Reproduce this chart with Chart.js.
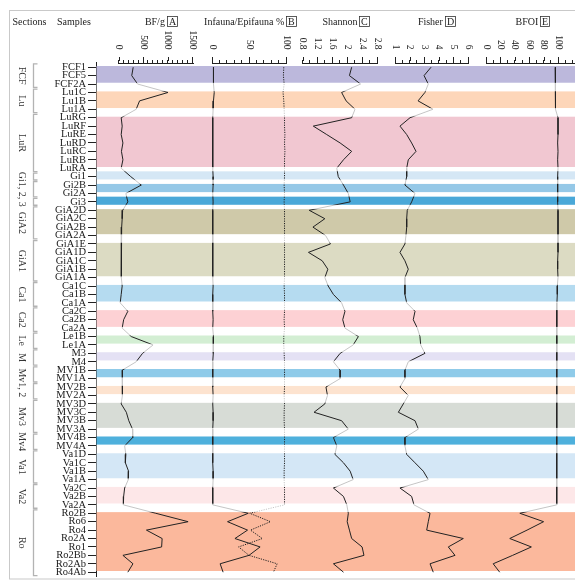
<!DOCTYPE html>
<html><head><meta charset="utf-8">
<script src="https://cdn.jsdelivr.net/npm/chart.js@4"></script>
<style>html,body{margin:0;padding:0;background:#fff;}canvas{display:block;}</style>
</head><body>
<canvas id="c" width="575" height="581" style="width:575px;height:581px"></canvas>
<script>
// ---------------- DATA ----------------
const samples = ['FCF1','FCF5','FCF2A','Lu1C','Lu1B','Lu1A','LuRG','LuRF','LuRE','LuRD','LuRC','LuRB','LuRA',
 'Gi1','Gi2B','Gi2A','Gi3','GiA2D','GiA2C','GiA2B','GiA2A','GiA1E','GiA1D','GiA1C','GiA1B','GiA1A',
 'Ca1C','Ca1B','Ca1A','Ca2C','Ca2B','Ca2A','Le1B','Le1A','M3','M4','MV1B','MV1A','MV2B','MV2A',
 'MV3D','MV3C','MV3B','MV3A','MV4B','MV4A','Va1D','Va1C','Va1B','Va1A','Va2C','Va2B','Va2A',
 'Ro2B','Ro6','Ro4','Ro2A','Ro1','Ro2Bb','Ro2Ab','Ro4Ab'];

const bfg = [300,270,390, 1010,430,360, 55,75,55,90,60,90,55, 250,465,150,190, 85,75,65,60, 55,60,55,60,55,
 75,55,35, 190,105,75, 260,705, 490,360, 75,75, 75,90, 55,160,210,285, 290,125, 150,140,205,200, 125,105,100,
 760,1420,570,890,880,90,295,190];

const infauna = [2,2.5,1.5, 3,2,1.5, 1,1,1,1,1,1,1, 1.5,1.5,1,1.5, 1,1,1,1, 1,1,1,1,1,
 1.5,1,1, 1,1.5,1, 2,2, 1.5,1, 1,1, 1,1.5, 1,1.5,1.5,1, 1,1, 1,1,1.5,1.5, 1,1,1,
 49,21,48,31,65,50,11,15];

const epifauna = [97,96.5,97.5, 96,97,97.5, 98,98,98.5,98,98.5,98,98, 98,97.5,98,97.5, 98,98,98,98, 98,98,98,98,98,
 97.5,98,98, 98,97.5,98, 97,97, 97.5,98, 98,98, 98,97.5, 98,97.5,97.5,98, 98,98, 98,98,97.5,97.5, 98,98,98,
 51,79,52,68,36,50,88,83];

const shannon = [2.12,2.06,2.36, 1.85,1.97,2.21, 2.12,1.09,1.45,1.81,2.12,1.90,1.72, 1.76,1.90,2.03,2.08,
 0.98,1.40,1.08,1.42, 1.55,0.96,1.33,1.48,1.40, 1.49,1.63,1.85, 1.94,1.88,1.94, 2.30,2.16, 1.81,1.63,
 1.81,1.81, 1.43,1.47, 1.40,1.11,1.85,2.03, 1.63,1.72, 1.67,1.90,2.08,2.16, 1.63,1.90,1.99,
 2.03,2.00,2.06,2.12,2.40,2.45,1.63,1.90];

const fisher = [3.47,2.99,3.28, 3.05,2.58,3.60, 2.03,1.34,1.80,2.14,2.44,1.91,1.80, 1.80,1.68,2.37,2.14,
 1.84,1.80,1.80,1.75, 1.68,1.34,1.68,1.91,1.68, 1.68,1.68,1.80, 2.37,2.25,2.53, 2.71,2.76, 3.05,1.91,
 1.68,1.68, 1.34,1.91, 1.57,1.23,2.37,2.60, 1.68,1.68, 1.80,2.37,2.94,3.28, 1.34,2.14,2.30,
 3.40,3.28,3.17,5.68,4.65,5.11,3.40,3.62];

const bfoi = [96,96,97, 96,96.5,97, 100,100,100,99.5,100,99.5,100, 99.5,99.5,99.5,99.5, 100,100,100,100, 100,100,99.5,99.5,100,
 99,99,98.5, 98.5,98,98.5, 98,98, 98.5,98.5, 98.5,98.5, 98,98, 98.5,98,98.5,98, 98.5,98.5, 98,98,98,98.5, 98,98,98.5,
 47,80,57,33,63,37,10,19];

// colour bands (sub-groups): first / last sample index
const bandNames  = ['FCF','Lu','LuR','Gi1','Gi2','Gi3','GiA2','GiA1','Ca1','Ca2','Le','M','MV1','MV2','MV3','MV4','Va1','Va2','Ro'];
const bandStart  = [0,3,6,13,14,16,17,21,26,29,32,34,36,38,40,44,46,50,53];
const bandEnd    = [2,5,12,13,15,16,20,25,28,31,33,35,37,39,43,45,49,52,60];
const bandColors = ['#bcb8dc','#fdd6b9','#f1c7d1','#d5e7f5','#95c8e7','#4aa8d8','#cfc9a9','#dcdbc3','#b5dbf0',
  '#fdd1d4','#d3eed3','#e4e1f4','#8fcbe9','#fde3cf','#d7dcd6','#4eb0dc','#d4e7f6','#fde7e8','#fbb89c'];

// sections (left column)
const sectionNames = ['FCF','Lu','LuR','Gi1, 2, 3','GiA2','GiA1','Ca1','Ca2','Le','M','Mv1, 2','Mv3','Mv4','Va1','Va2','Ro'];
const sectionStart = [0,3,6,13,17,21,26,29,32,34,36,40,44,46,50,53];
const sectionEnd   = [2,5,12,16,20,25,28,31,33,35,39,43,45,49,52,60];

// panels
const panelTitles  = ['BF/g','Infauna/Epifauna %','Shannon','Fisher','BFOI'];
const panelLetters = ['A','B','C','D','E'];
const ticksA = [0,500,1000,1500];
const ticksB = [0,50,100];
const ticksC = [0.8,1.2,1.6,2,2.4,2.8];
const ticksD = [1,2,3,4,5,6];
const ticksE = [0,20,40,60,80,100];
const headerLeft = ['Sections','Samples'];

// ---------------- LAYOUT / STYLE ----------------
const SERIF = '"Liberation Serif", "Times New Roman", serif';
const INK = '#222';
const panelIds = ['xA','xB','xC','xD','xE'];
const panelLabels = [ticksA, ticksB, ticksC, ticksD, ticksE];
const titleNudge = [5,1,6,5,2];
const TOPH = 63;

function panelScale(min, max, step, weight) {
  return {
    type: 'linear', position: 'top', stack: 'panels', stackWeight: weight, min, max,
    grid: { display: true, drawOnChartArea: false, drawTicks: true, tickLength: 3, color: INK, lineWidth: 1 },
    border: { display: true, color: INK, width: 1 },
    ticks: { display: false },
    afterBuildTicks: s => { const t = []; for (let k = 0; min + k * step <= max + 1e-9; k++) t.push({ value: +(min + k * step).toFixed(4) }); s.ticks = t; },
    afterFit: s => { s.height = TOPH; }
  };
}
function spacer(weight) {
  return {
    type: 'linear', position: 'top', stack: 'panels', stackWeight: weight, min: 0, max: 1,
    grid: { display: false }, border: { display: false }, ticks: { display: false },
    afterFit: s => { s.height = TOPH; }
  };
}

function bandSpan(chart, b) {
  const ys = chart.scales.y;
  let t = ys.getPixelForValue(bandStart[b]) - 1.2;
  let bo = ys.getPixelForValue(bandEnd[b]) - 1.2;
  if (bo - t < 8.4) { const c = (t + bo) / 2; t = c - 4.2; bo = c + 4.2; }
  return [t, bo];
}

const decor = {
  id: 'decor',
  beforeDatasetsDraw(chart) {
    const { ctx, chartArea } = chart;
    ctx.save();
    for (let b = 0; b < bandNames.length; b++) {
      const [t, bo] = bandSpan(chart, b);
      ctx.fillStyle = bandColors[b];
      ctx.fillRect(chartArea.left + 0.5, t, chart.width - chartArea.left, bo - t);
    }
    ctx.restore();
  },
  afterDatasetsDraw(chart) {
    const { ctx, chartArea } = chart;
    ctx.save();
    ctx.fillStyle = 'rgba(255,255,255,0.74)';
    for (let b = 0; b < bandNames.length - 1; b++) {
      const bo = bandSpan(chart, b)[1];
      const t2 = bandSpan(chart, b + 1)[0];
      ctx.fillRect(chartArea.left + 0.5, bo, chart.width, t2 - bo);
    }
    ctx.restore();
  },
  afterDraw(chart) {
    const { ctx, chartArea } = chart;
    const ys = chart.scales.y;
    ctx.save();
    // frame
    ctx.strokeStyle = '#c9c9c9'; ctx.lineWidth = 1;
    ctx.strokeRect(9.5, 10.5, 570, 568.5);
    // header
    ctx.fillStyle = INK;
    ctx.font = '10px ' + SERIF;
    ctx.textBaseline = 'middle'; ctx.textAlign = 'left';
    ctx.fillText(headerLeft[0], 12.5, 22);
    ctx.fillText(headerLeft[1], 57, 22);
    // panel titles + tick labels
    panelIds.forEach((id, k) => {
      const s = chart.scales[id];
      const cx = (s.left + s.right) / 2 + titleNudge[k];
      ctx.font = '10px ' + SERIF;
      ctx.textAlign = 'left'; ctx.textBaseline = 'middle';
      const w1 = ctx.measureText(panelTitles[k]).width;
      const w2 = ctx.measureText(panelLetters[k]).width;
      const total = w1 + 2 + w2 + 3;
      const x0 = cx - total / 2;
      ctx.fillStyle = INK;
      ctx.fillText(panelTitles[k], x0, 22);
      const bx = x0 + w1 + 2;
      ctx.strokeStyle = '#333'; ctx.lineWidth = 0.8;
      ctx.strokeRect(Math.round(bx) + 0.5, 16.5, Math.round(w2 + 3), 10);
      ctx.fillText(panelLetters[k], Math.round(bx) + 2, 22);
      ctx.font = '9.5px ' + SERIF;
      panelLabels[k].forEach(v => {
        const px = s.getPixelForValue(v);
        ctx.save();
        ctx.translate(px, 49.5);
        ctx.rotate(Math.PI / 2);
        ctx.textAlign = 'right'; ctx.textBaseline = 'middle';
        ctx.fillText(String(v), 0, 0);
        ctx.restore();
        const ax = Math.round(px) + 0.5;
        ctx.beginPath(); ctx.strokeStyle = INK; ctx.lineWidth = 1;
        ctx.moveTo(ax, chartArea.top - 6); ctx.lineTo(ax, chartArea.top - 2); ctx.stroke();
      });
    });
    // section labels
    ctx.font = '10px ' + SERIF; ctx.fillStyle = '#333';
    sectionNames.forEach((name, k) => {
      const y1 = ys.getPixelForValue(sectionStart[k]);
      const y2 = ys.getPixelForValue(sectionEnd[k]);
      ctx.save();
      ctx.translate(22, (y1 + y2) / 2);
      ctx.rotate(Math.PI / 2);
      ctx.textAlign = 'center'; ctx.textBaseline = 'middle';
      ctx.fillText(name, 0, 0);
      ctx.restore();
    });
    // brackets
    ctx.strokeStyle = '#b3b3b3'; ctx.lineWidth = 1.3;
    for (let b = 0; b < bandNames.length; b++) {
      const y1 = ys.getPixelForValue(bandStart[b]) - 3.4;
      const y2 = ys.getPixelForValue(bandEnd[b]) + 3.4;
      ctx.beginPath();
      ctx.moveTo(37.5, y1); ctx.lineTo(33.5, y1); ctx.lineTo(33.5, y2); ctx.lineTo(37.5, y2);
      ctx.stroke();
    }
    ctx.restore();
  }
};

function lineDs(data, axis, dash) {
  return { data, xAxisID: axis, borderColor: INK, borderWidth: 1, pointRadius: 0, pointHoverRadius: 0,
    tension: 0, fill: false, borderDash: dash || [] };
}

// Top-positioned stacked axes are laid out right-to-left in definition order,
// so the panel axes are declared from the right-most (E) to the left-most (A).
new Chart(document.getElementById('c'), {
  type: 'line',
  data: {
    labels: samples,
    datasets: [
      lineDs(bfg, 'xA'),
      lineDs(infauna, 'xB'),
      lineDs(epifauna, 'xB', [1.2, 1.2]),
      lineDs(shannon, 'xC'),
      lineDs(fisher, 'xD'),
      lineDs(bfoi, 'xE')
    ]
  },
  options: {
    indexAxis: 'y',
    responsive: false,
    animation: false,
    devicePixelRatio: 1,
    layout: { autoPadding: false, padding: { top: 0, left: 0, right: 0, bottom: 4.6 } },
    plugins: { legend: { display: false }, tooltip: { enabled: false } },
    scales: {
      y: {
        type: 'category', position: 'left', offset: true,
        grid: { display: true, drawOnChartArea: false, drawTicks: true, tickLength: 8, color: INK, offset: false },
        border: { display: true, color: INK, width: 1 },
        ticks: { autoSkip: false, padding: 2, color: '#1a1a1a', font: { family: SERIF, size: 10.5 } },
        afterFit: s => { s.width = 96; s.paddingTop = 0; s.paddingBottom = 0; }
      },
      xE: panelScale(0, 123.6, 10, 89),
      s4: spacer(18),
      xD: panelScale(1, 6, 0.5, 73),
      s3: spacer(18),
      xC: panelScale(0.8, 2.8, 0.2, 74.5),
      s2: spacer(16.5),
      xB: panelScale(0, 100, 10, 74),
      s1: spacer(18.5),
      xA: panelScale(0, 1530, 100, 75),
      s0: spacer(22.5)
    }
  },
  plugins: [decor]
});
</script>
</body></html>
